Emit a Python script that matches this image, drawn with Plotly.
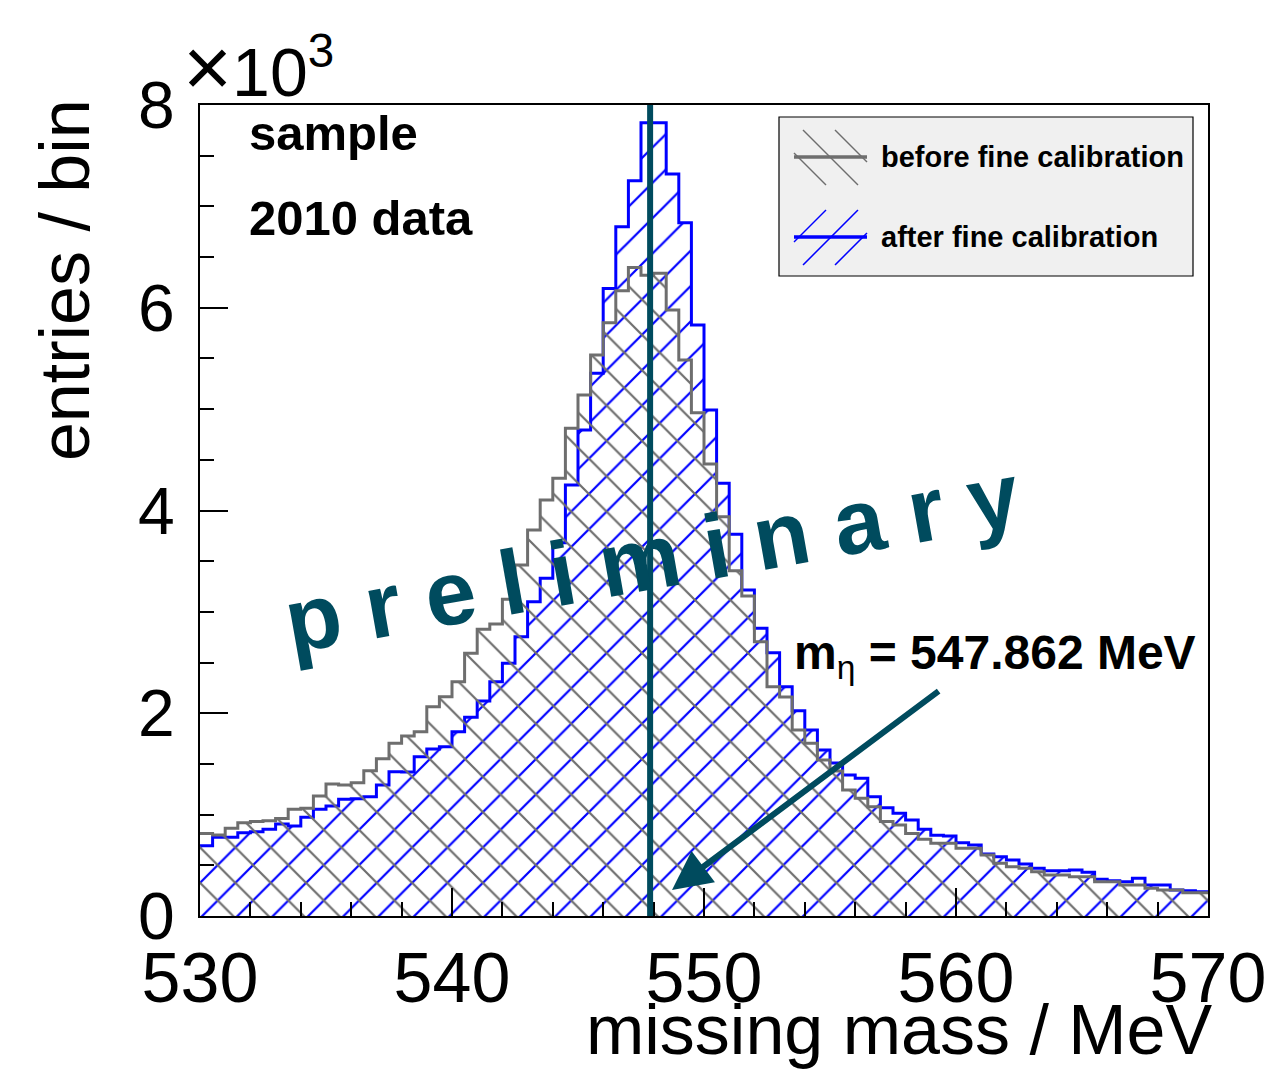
import plotly.graph_objects as go

# ---------------- data ----------------
X_MIN, X_MAX, BIN_WIDTH = 530.0, 570.0, 0.5

before_fine = [
    815, 799, 865, 921, 931, 940, 963, 1052, 1062, 1184,
    1302, 1292, 1315, 1433, 1552, 1703, 1776, 1818, 2065, 2163,
    2311, 2591, 2828, 2880, 3124, 3462, 3808, 4103, 4317, 4811,
    5139, 5534, 5852, 6168, 6398, 6320, 6340, 5978, 5484, 4965,
    4459, 3939, 3406, 3156, 2706, 2262, 2160, 1835, 1703, 1539,
    1430, 1243, 1161, 1078, 931, 898, 815, 756, 717, 717,
    668, 668, 602, 520, 487, 470, 437, 404, 404, 388,
    388, 338, 338, 306, 306, 273, 256, 256, 230, 230,
]

after_fine = [
    694, 776, 776, 822, 832, 855, 907, 888, 973, 1052,
    1085, 1151, 1157, 1177, 1292, 1423, 1420, 1571, 1647, 1670,
    1818, 1960, 2120, 2311, 2492, 2755, 3100, 3331, 3683, 4251,
    4794, 5353, 6191, 6800, 7254, 7826, 7826, 7319, 6839, 5830,
    4991, 4268, 3765, 3216, 2838, 2597, 2262, 2025, 1835, 1637,
    1510, 1391, 1358, 1177, 1069, 1013, 947, 855, 796, 789,
    723, 700, 612, 585, 552, 513, 470, 447, 447, 453,
    431, 362, 348, 338, 372, 306, 306, 256, 250, 240,
]

M_ETA = 547.862
x_tick_vals = [530, 540, 550, 560, 570]
y_tick_vals = [0, 2000, 4000, 6000, 8000]
y_tick_text = ["0", "2", "4", "6", "8"]
arrow_tail = (559.37, 2229)
arrow_tip = (548.73, 256)
legend_labels = ["before fine calibration", "after fine calibration"]

# ---------------- figure ----------------
TEAL = "#004b5e"
GRAY = "#6e6e6e"
BLUE = "#0000ff"
FONT = "Liberation Sans, Arial, Helvetica, sans-serif"

# plot-area geometry (pixels) used only for the hand-drawn legend box
L, R, T, B = 200, 1208, 105, 916


def px(xp):
    return (xp - L) / (R - L)


def py(yp):
    return (B - yp) / (B - T)


edges = [X_MIN + i * BIN_WIDTH for i in range(len(before_fine) + 1)]


def steps(vals):
    return list(vals) + [vals[-1]]


fig = go.Figure()

fig.add_trace(go.Scatter(
    x=edges, y=steps(after_fine), mode="lines",
    line=dict(shape="hv", color=BLUE, width=3),
    fill="tozeroy", fillcolor="rgba(0,0,0,0)",
    fillpattern=dict(shape="/", fgcolor=BLUE, bgcolor="rgba(0,0,0,0)",
                     fgopacity=1, size=25, solidity=0.09),
    name=legend_labels[1], showlegend=False,
))
fig.add_trace(go.Scatter(
    x=edges, y=steps(before_fine), mode="lines",
    line=dict(shape="hv", color=GRAY, width=3),
    fill="tozeroy", fillcolor="rgba(0,0,0,0)",
    fillpattern=dict(shape="\\", fgcolor=GRAY, bgcolor="rgba(0,0,0,0)",
                     fgopacity=1, size=25, solidity=0.09),
    name=legend_labels[0], showlegend=False,
))

shapes = []
# vertical line at the eta mass
shapes.append(dict(type="line", xref="x", yref="paper", x0=M_ETA, x1=M_ETA,
                   y0=0, y1=1, line=dict(color=TEAL, width=6)))

# ---- legend box (drawn by hand, like the ROOT TLegend) ----
shapes.append(dict(type="rect", xref="paper", yref="paper",
                   x0=px(779), x1=px(1193), y0=py(117), y1=py(276),
                   fillcolor="#f0f0f0", line=dict(color="black", width=1.2),
                   layer="above"))


def hatch(x0, x1, y0, y1, spacing, slope_down, color):
    """clipped diagonal hatch lines inside a pixel box"""
    segs = []
    w, h = x1 - x0, y1 - y0
    c = -h
    while c < w + h:
        s0 = max(0, -c)
        s1 = min(h, w - c)
        if s1 > s0:
            xa, xb = x0 + c + s0, x0 + c + s1
            if slope_down:
                ya, yb = y0 + s0, y0 + s1
            else:
                ya, yb = y1 - s0, y1 - s1
            segs.append(dict(type="line", xref="paper", yref="paper",
                             x0=px(xa), x1=px(xb), y0=py(ya), y1=py(yb),
                             line=dict(color=color, width=1.5),
                             layer="above"))
        c += spacing
    return segs


shapes += hatch(794, 867, 130, 185, 32, True, GRAY)
shapes.append(dict(type="line", xref="paper", yref="paper",
                   x0=px(794), x1=px(867), y0=py(157), y1=py(157),
                   line=dict(color=GRAY, width=3.5), layer="above"))
shapes += hatch(794, 867, 210, 265, 32, False, BLUE)
shapes.append(dict(type="line", xref="paper", yref="paper",
                   x0=px(794), x1=px(867), y0=py(237), y1=py(237),
                   line=dict(color=BLUE, width=3.5), layer="above"))

ann = []
ann.append(dict(text="<b>" + legend_labels[0] + "</b>", xref="paper", yref="paper",
                x=px(879), y=py(157), xanchor="left", yanchor="middle",
                showarrow=False, font=dict(size=29)))
ann.append(dict(text="<b>" + legend_labels[1] + "</b>", xref="paper", yref="paper",
                x=px(879), y=py(237), xanchor="left", yanchor="middle",
                showarrow=False, font=dict(size=29)))
ann.append(dict(text="<span style='font-size:84px'>×</span>10<sup>3</sup>",
                xref="paper", yref="paper",
                x=-0.019, y=1.047, xanchor="left", yanchor="middle",
                showarrow=False, font=dict(size=68)))
ann.append(dict(text="<b>sample</b>", xref="paper", yref="paper",
                x=0.047, y=0.966, xanchor="left", yanchor="middle",
                showarrow=False, font=dict(size=49)))
ann.append(dict(text="<b>2010 data</b>", xref="paper", yref="paper",
                x=0.047, y=0.861, xanchor="left", yanchor="middle",
                showarrow=False, font=dict(size=49)))
ann.append(dict(text="<b>p r e l i m i n a r y</b>",
                xref="x", yref="y", x=547.95, y=3540,
                xanchor="center", yanchor="middle", textangle=-10,
                showarrow=False, font=dict(size=91, color=TEAL)))
ann.append(dict(text="<b>m</b><sub>η</sub><b> = 547.862 MeV</b>",
                xref="paper", yref="paper", x=0.587, y=0.321,
                xanchor="left", yanchor="middle", showarrow=False,
                font=dict(size=48)))
ann.append(dict(text="", xref="x", yref="y", x=arrow_tip[0], y=arrow_tip[1],
                axref="x", ayref="y", ax=arrow_tail[0], ay=arrow_tail[1],
                showarrow=True, arrowhead=2, arrowsize=1.3, arrowwidth=6,
                arrowcolor=TEAL, standoff=0))
ann.append(dict(text="missing mass / MeV", xref="paper", yref="paper",
                x=1.0, y=-0.140, xanchor="right", yanchor="middle", xshift=7,
                showarrow=False, font=dict(size=70)))
ann.append(dict(text="entries / bin", xref="paper", yref="paper",
                x=-0.134, y=0.784, xanchor="center", yanchor="middle",
                textangle=-90, showarrow=False, font=dict(size=70)))

fig.update_layout(
    width=1270, height=1069, autosize=False,
    margin=dict(l=L, r=1270 - R, t=T, b=1069 - B, autoexpand=False),
    paper_bgcolor="white", plot_bgcolor="white",
    font=dict(family=FONT, color="black"),
    annotations=ann, shapes=shapes,
    showlegend=False,
    xaxis=dict(range=[X_MIN, X_MAX], tickvals=x_tick_vals,
               ticks="inside", ticklen=28, tickwidth=1.5, tickcolor="black",
               minor=dict(dtick=2, ticks="inside", ticklen=14, tickwidth=1.5,
                          tickcolor="black"),
               showline=True, linecolor="black", linewidth=2, mirror=True,
               showgrid=False, zeroline=False, automargin=False,
               tickfont=dict(size=70), ticklabelstandoff=0),
    yaxis=dict(range=[0, 8000], tickvals=y_tick_vals, ticktext=y_tick_text,
               ticks="inside", ticklen=28, tickwidth=1.5, tickcolor="black",
               minor=dict(dtick=500, ticks="inside", ticklen=14, tickwidth=1.5,
                          tickcolor="black"),
               showline=True, linecolor="black", linewidth=2, mirror=True,
               showgrid=False, zeroline=False, automargin=False,
               tickfont=dict(size=66), ticklabelstandoff=10),
)

fig.write_html("out.html")
